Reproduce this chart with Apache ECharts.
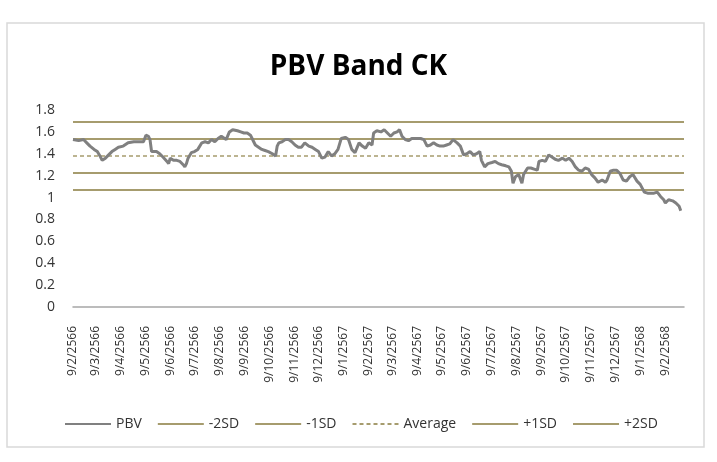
<!DOCTYPE html>
<html>
<head>
    <meta charset="utf-8">
    <title>PBV Band CK</title>
    <script src="https://cdn.jsdelivr.net/npm/echarts@6/dist/echarts.min.js"></script>
    <style>
        html, body { margin: 0; padding: 0; background: #fff; }
    </style>
</head>
<body>
<div id="chartmain" style="width:717px; height:462px;"></div>
<script>
    // วันที่เริ่มต้น 9/2/2566 (ค.ศ. 2023)
    var startDate = new Date(2023, 1, 9);
    var axisEndDay = 754;

    // ป้ายแกน x (พ.ศ.)
    var tickLabels = ['9/2/2566','9/3/2566','9/4/2566','9/5/2566','9/6/2566','9/7/2566','9/8/2566',
        '9/9/2566','9/10/2566','9/11/2566','9/12/2566','9/1/2567','9/2/2567','9/3/2567','9/4/2567',
        '9/5/2567','9/6/2567','9/7/2567','9/8/2567','9/9/2567','9/10/2567','9/11/2567','9/12/2567',
        '9/1/2568','9/2/2568'];

    // จำนวนวันนับจากวันเริ่มต้น
    var dayOffsets = [0,7,13,17,21,26,30,34,36,40,44,48,52,56,62,68,75,83,87,90,93,95,97,103,107,111,
        116,118,120,124,128,132,136,138,140,142,146,150,154,159,163,167,171,175,179,183,189,193,197,
        203,207,211,215,219,223,225,229,233,237,241,246,250,252,254,258,262,266,270,274,278,282,286,
        291,295,299,303,307,311,315,319,323,327,331,336,340,344,348,353,357,361,365,369,371,375,380,
        384,388,392,396,400,403,406,410,414,418,425,429,433,437,441,445,449,453,457,461,465,469,474,
        478,482,486,490,494,498,502,504,508,512,517,521,525,529,534,538,541,543,546,550,554,556,561,
        565,569,573,575,579,583,587,591,595,599,604,608,612,616,620,624,628,632,636,640,644,648,653,
        657,659,663,667,671,675,679,683,687,691,696,700,705,709,713,717,721,725,729,731,735,740,744,
        748,750];

    var pbv = [1.53,1.52,1.53,1.50,1.47,1.44,1.42,1.37,1.34,1.36,1.39,1.42,1.44,1.46,1.47,1.50,1.51,
        1.51,1.51,1.57,1.56,1.53,1.42,1.42,1.40,1.37,1.33,1.31,1.36,1.34,1.34,1.33,1.30,1.28,1.31,1.36,
        1.41,1.42,1.44,1.50,1.51,1.50,1.53,1.51,1.54,1.56,1.53,1.60,1.62,
        1.61,1.60,1.59,1.59,1.57,1.51,1.48,1.46,1.44,1.43,1.42,1.40,1.38,1.47,1.50,1.51,1.53,1.53,
        1.51,1.48,1.46,1.46,1.50,1.47,1.46,1.44,1.42,1.36,1.37,1.42,1.38,1.40,1.44,1.54,1.55,1.53,
        1.44,1.41,1.50,1.47,1.45,1.50,1.48,1.59,1.61,1.60,1.62,1.59,1.56,1.59,1.60,1.62,1.56,1.53,
        1.52,1.54,1.54,1.54,1.53,1.47,1.48,1.50,1.48,1.47,1.47,1.48,1.49,1.53,1.50,1.47,1.39,1.40,
        1.42,1.39,1.40,1.42,1.34,1.28,1.31,1.32,1.33,1.31,1.30,1.29,1.28,1.24,1.13,1.19,1.21,1.13,
        1.21,1.27,1.27,1.26,1.25,1.33,1.34,1.33,1.39,1.37,1.35,1.34,1.36,1.34,1.36,1.33,1.28,1.25,
        1.24,1.27,1.26,1.21,1.18,1.14,1.16,1.14,1.16,1.24,1.25,1.25,1.22,1.16,1.15,1.19,1.21,1.15,
        1.12,1.05,1.04,1.04,1.04,1.05,1.01,0.98,0.95,0.98,0.97,0.95,0.92,0.88];

    // เส้น band
    var bandNames = ['-2SD', '-1SD', 'Average', '+1SD', '+2SD'];
    var bandValues = [1.07, 1.225, 1.38, 1.535, 1.69];

    var bandColor = '#a69c6e';
    var font = "'Open Sans', 'Noto Sans', sans-serif";

    function toDay(label) {
        var p = label.split('/');
        var d = new Date(+p[2] - 543, +p[1] - 1, +p[0]);
        return Math.round((d - startDate) / 86400000);
    }
    var tickDays = tickLabels.map(toDay);
    var labelOf = {};
    tickDays.forEach(function (d, i) { labelOf[d] = tickLabels[i]; });

    var series = [{
        name: 'PBV',
        type: 'line',
        symbol: 'none',
        data: dayOffsets.map(function (d, i) { return [d, pbv[i]]; }),
        lineStyle: { color: '#808080', width: 3 },
        itemStyle: { color: '#808080' },
        z: 5
    }];
    for (var i = 0; i < bandNames.length; i++) {
        series.push({
            name: bandNames[i],
            type: 'line',
            symbol: 'none',
            data: [[0, bandValues[i]], [axisEndDay, bandValues[i]]],
            lineStyle: bandNames[i] === 'Average'
                ? { color: bandColor, width: 1.5, type: [4, 3] }
                : { color: bandColor, width: 2 },
            itemStyle: { color: bandColor }
        });
    }

    var myChart = echarts.init(document.getElementById('chartmain'));
    var option = {
        backgroundColor: '#fff',
        animation: false,
        textStyle: { fontFamily: font },
        graphic: [{
            type: 'rect',
            shape: { x: 7, y: 23, width: 697, height: 424 },
            style: { fill: 'none', stroke: '#d9d9d9', lineWidth: 1.5 },
            silent: true
        }],
        title: {
            text: 'PBV Band CK',
            left: 'center',
            top: 48,
            textStyle: { fontFamily: font, fontSize: 28, fontWeight: 'bold', color: '#000' }
        },
        legend: {
            bottom: 26,
            left: 59,
            itemWidth: 46,
            itemHeight: 10,
            itemGap: 15,
            itemStyle: { opacity: 0 },
            textStyle: { fontFamily: font, fontSize: 14, color: '#333' },
            data: ['PBV'].concat(bandNames)
        },
        grid: { left: 73, right: 33, top: 110, bottom: 155 },
        xAxis: {
            type: 'value',
            min: 0,
            max: axisEndDay,
            axisLine: { show: true, lineStyle: { color: '#a6a6a6', width: 1.5 } },
            axisTick: { show: false },
            splitLine: { show: false },
            axisLabel: {
                customValues: tickDays,
                rotate: 90,
                margin: 19,
                fontSize: 12,
                color: '#333',
                fontFamily: font,
                formatter: function (v) { return labelOf[Math.round(v)] || ''; }
            }
        },
        yAxis: {
            type: 'value',
            min: 0,
            max: 1.8,
            interval: 0.2,
            axisLine: { show: false },
            axisTick: { show: false },
            splitLine: { show: false },
            axisLabel: { fontSize: 14, color: '#333', margin: 18, fontFamily: font }
        },
        series: series
    };
    myChart.setOption(option);
</script>
</body>
</html>
